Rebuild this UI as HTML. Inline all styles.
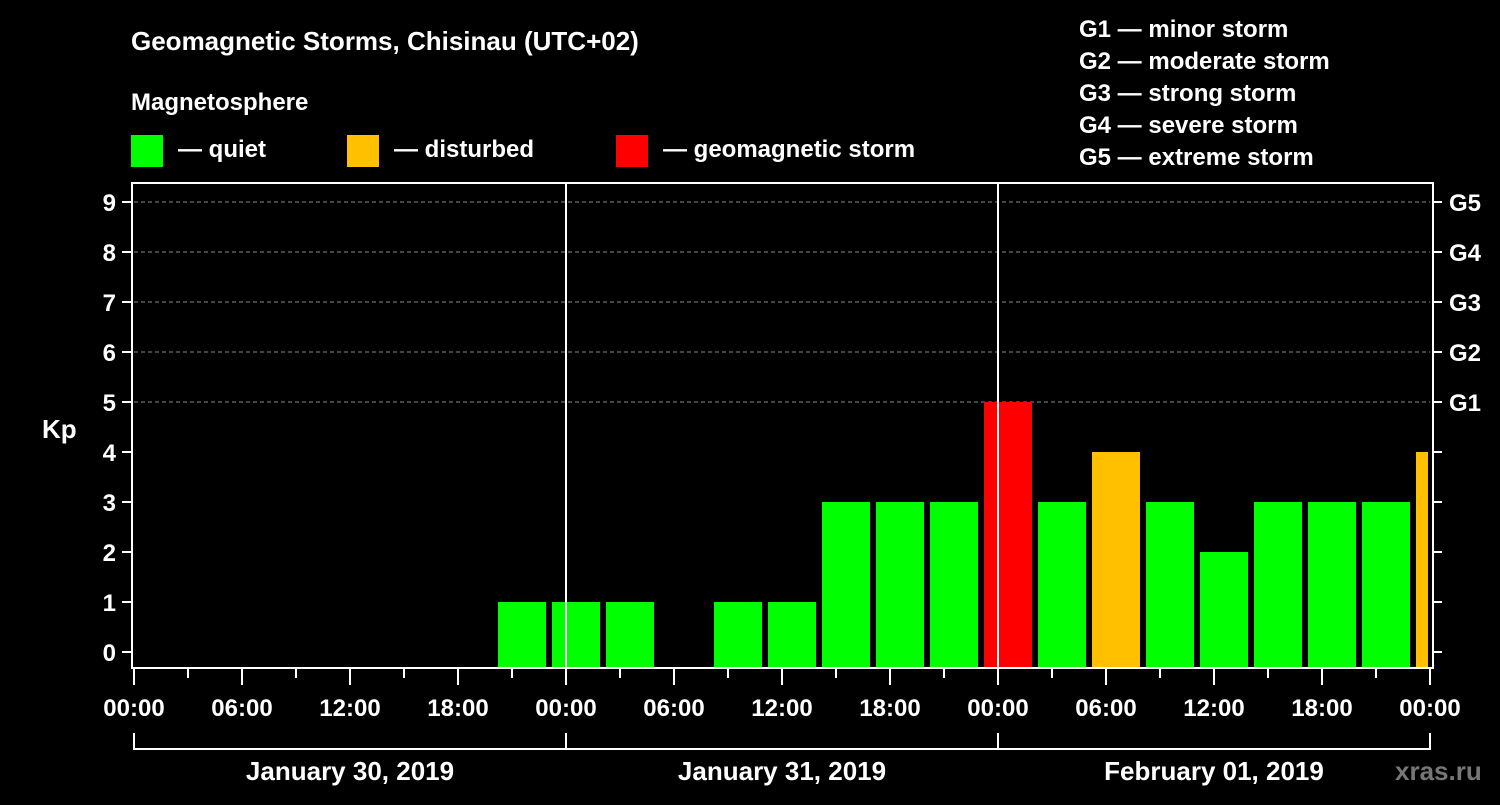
<!DOCTYPE html>
<html><head><meta charset="utf-8"><style>
body{margin:0;background:#000;width:1500px;height:800px;overflow:hidden}
svg text{font-family:"Liberation Sans",sans-serif;font-weight:bold;fill:#fff}
</style></head><body>
<svg id="c" width="1500" height="800" xmlns="http://www.w3.org/2000/svg">
<text x="131" y="50" font-size="26">Geomagnetic Storms, Chisinau (UTC+02)</text>
<text x="131" y="110" font-size="24">Magnetosphere</text>
<g><rect x="131" y="135" width="32" height="32" fill="#00ff00"/><text x="178" y="157" font-size="24">— quiet</text></g>
<g><rect x="347" y="135" width="32" height="32" fill="#ffc000"/><text x="394" y="157" font-size="24">— disturbed</text></g>
<g><rect x="616" y="135" width="32" height="32" fill="#ff0000"/><text x="663" y="157" font-size="24">— geomagnetic storm</text></g>
<g font-size="24">
<text x="1079" y="37">G1 — minor storm</text><text x="1079" y="69">G2 — moderate storm</text><text x="1079" y="101">G3 — strong storm</text><text x="1079" y="133">G4 — severe storm</text><text x="1079" y="165">G5 — extreme storm</text></g>
<text x="42" y="438" font-size="26">Kp</text>
<text x="1395" y="780" font-size="26" fill="#777" style="fill:#777">xras.ru</text>
<g id="grid"></g><g id="bars"></g><g id="axes"></g>
</svg>
<script>
const kpValues=[1,1,1,0,1,1,3,3,3,5,3,4,3,2,3,3,3,4];
const startHour=20; // first interval start (local), hours from Jan 30 00:00
const yTicks=[0,1,2,3,4,5,6,7,8,9];
const gLabels=["G1","G2","G3","G4","G5"];
const xTickLabels=["00:00","06:00","12:00","18:00","00:00","06:00","12:00","18:00","00:00","06:00","12:00","18:00","00:00"];
const dayLabels=["January 30, 2019","January 31, 2019","February 01, 2019"];
const L=134,R=1430,T=183,B=668;
const x=h=>L+h*(R-L)/72;
const y=k=>652-k*50;
const NS="http://www.w3.org/2000/svg";
function mk(p,t,a){const e=document.createElementNS(NS,t);for(const k in a)e.setAttribute(k,a[k]);document.getElementById(p).appendChild(e);return e;}
function col(v){return v>=5?"#ff0000":v>=4?"#ffc000":"#00ff00";}
// grid
for(let k=5;k<=9;k++){const l=mk("grid","line",{x1:L,x2:R,y1:y(k),y2:y(k),stroke:"#888","stroke-dasharray":"4,3","stroke-width":1});

}
// bars
kpValues.forEach((v,i)=>{const h0=startHour+i*3;const x0=x(h0)+4;const x1=Math.min(x(h0+3)-2,R-2);
if(v<=0)return;
const r=mk("bars","rect",{x:x0,y:y(v),width:x1-x0,height:B-y(v),fill:col(v)});

});
// day separators
[24,48].forEach(h=>{const l=mk("axes","line",{x1:x(h),x2:x(h),y1:T,y2:B,stroke:"#fff","stroke-width":2});

});
// frame
const f=mk("axes","rect",{x:132,y:T,width:1301-0,height:B-T,fill:"none",stroke:"#fff","stroke-width":2});


// y ticks
yTicks.forEach(k=>{mk("axes","line",{x1:122,x2:132,y1:y(k),y2:y(k),stroke:"#fff","stroke-width":2});
mk("axes","line",{x1:1433,x2:1442,y1:y(k),y2:y(k),stroke:"#fff","stroke-width":2});
const t=mk("axes","text",{x:116,y:y(k)+9,"font-size":24,"text-anchor":"end"});t.textContent=k;

});
gLabels.forEach((g,i)=>{const t=mk("axes","text",{x:1449,y:y(5+i)+9,"font-size":24});t.textContent=g;

});
// x ticks
for(let h=0;h<=72;h+=3){const maj=h%6==0;mk("axes","line",{x1:x(h),x2:x(h),y1:669,y2:maj?685:678,stroke:"#fff","stroke-width":2});}
xTickLabels.forEach((s,i)=>{const t=mk("axes","text",{x:x(i*6),y:716,"font-size":24,"text-anchor":"middle"});t.textContent=s;

});
// day brackets
dayLabels.forEach((d,i)=>{const a=x(i*24),b=x(i*24+24);
mk("axes","path",{d:`M${a},733V749H${b}V733`,fill:"none",stroke:"#fff","stroke-width":2});
const t=mk("axes","text",{x:(a+b)/2,y:780,"font-size":26,"text-anchor":"middle"});t.textContent=d;

});
</script>
</body></html>
